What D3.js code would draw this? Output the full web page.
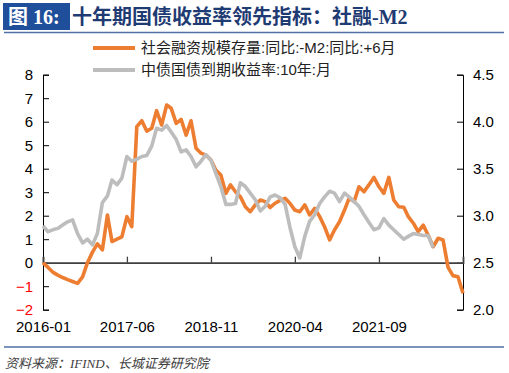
<!DOCTYPE html>
<html><head><meta charset="utf-8">
<script src="https://cdn.jsdelivr.net/npm/d3@7/dist/d3.min.js"></script>
<style>
html,body{margin:0;padding:0;background:#fff;}
svg{display:block;}
</style></head>
<body>
<svg id="c" width="509" height="373"></svg>
<script>
// ---- data ----
const startMonth = "2016-01";
// 社会融资规模存量:同比:-M2:同比:+6月 (left axis, %), monthly from 2016-01
const tsfMinusM2 = [0,-0.2,-0.4,-0.53,-0.63,-0.72,-0.8,-0.88,-0.6,0,
  0.45,0.8,0.55,2.03,0.9,1.0,1.1,1.96,1.53,5.79,
  6.04,5.6,5.72,6.47,5.86,6.71,6.57,5.93,6.1,5.43,
  6.04,4.87,4.66,4.58,4.37,3.94,3.73,2.95,3.31,3.02,
  2.81,2.38,2.17,2.46,2.67,2.6,2.35,2.53,2.65,2.74,
  2.53,2.24,2.17,2.46,2.03,2.31,1.96,1.53,0.97,1.39,
  1.74,2.24,2.74,2.6,3.23,3.02,3.31,3.63,3.23,2.95,
  3.63,2.67,2.38,2.36,1.96,1.68,1.32,1.6,1.18,0.68,
  1.04,0.97,-0.2,-0.55,-0.6,-1.3];
// 中债国债到期收益率:10年:月 (right axis, %), monthly from 2016-01
const cgb10y = [2.89,2.83,2.85,2.865,2.9,2.935,2.955,2.81,2.71,2.75,
  2.69,2.81,3.14,3.21,3.38,3.33,3.4,3.63,3.58,3.6,
  3.63,3.64,3.74,3.93,3.91,3.96,3.89,3.81,3.68,3.7,
  3.63,3.52,3.58,3.65,3.59,3.45,3.31,3.12,3.12,3.13,
  3.35,3.31,3.24,3.17,3.05,3.1,3.2,3.22,3.19,3.12,
  2.88,2.67,2.55,2.78,2.94,3.01,3.13,3.2,3.26,3.24,
  3.15,3.24,3.2,3.15,3.1,3.01,2.93,2.85,2.87,2.97,
  2.9,2.85,2.8,2.75,2.78,2.81,2.8,2.79,2.79,2.66];
const xTickLabels = ["2016-01","2017-06","2018-11","2020-04","2021-09"];
const leftTicks = [-2,-1,0,1,2,3,4,5,6,7,8];
const rightTicks = [2.0,2.5,3.0,3.5,4.0,4.5];
const seriesNames = ["社会融资规模存量:同比:-M2:同比:+6月","中债国债到期收益率:10年:月"];
const titleTag = "图 16:";
const titleText = "十年期国债收益率领先指标：社融-M2";
const sourceText = "资料来源：IFIND、长城证券研究院";

// ---- drawing ----
const svg = d3.select("#c");
const parse = d3.timeParse("%Y-%m");
const t0 = parse(startMonth);
const dateAt = i => d3.timeMonth.offset(t0, i);
const orangeData = tsfMinusM2.map((v,i)=>({d:dateAt(i), v}));
const grayData = cgb10y.map((v,i)=>({d:dateAt(i), v}));

const L = 43, R = 463, T = 74.7, B = 309.7;
const x = d3.scaleTime().domain([t0, dateAt(tsfMinusM2.length-1)]).range([L, R]);
const yL = d3.scaleLinear().domain([-2, 8]).range([B, T]);
const yR = d3.scaleLinear().domain([2.0, 4.5]).range([B, T]);

const latin = "'Liberation Sans', Arial, 'Noto Sans CJK SC', sans-serif";
const serif = "'Liberation Serif', 'Times New Roman', 'Noto Sans CJK SC', serif";

// header
svg.append("rect").attr("x",3).attr("y",3).attr("width",67).attr("height",27).attr("fill","#1F4E9A");
svg.append("text").attr("x",8).attr("y",24).attr("fill","#fff")
  .style("font-family",serif).style("font-size","20px").style("font-weight","bold").text(titleTag);
svg.append("text").attr("x",72).attr("y",24).attr("fill","#1F3B73")
  .style("font-family",serif).style("font-size","20px").style("font-weight","bold").text(titleText);
svg.append("line").attr("x1",4).attr("x2",504).attr("y1",32.5).attr("y2",32.5)
  .attr("stroke","#4F71A8").attr("stroke-width",1.5);
svg.append("line").attr("x1",4).attr("x2",504).attr("y1",347).attr("y2",347)
  .attr("stroke","#4F71A8").attr("stroke-width",1.5);
svg.append("text").attr("x",5).attr("y",368).attr("fill","#404040")
  .style("font-family",serif).style("font-size","13px").style("font-style","italic").text(sourceText);

// legend
const lg = svg.append("g");
[["#ED7D31",48],["#BDBDBD",70]].forEach((s,i)=>{
  lg.append("line").attr("x1",93).attr("x2",135).attr("y1",s[1]).attr("y2",s[1])
    .attr("stroke",s[0]).attr("stroke-width",4);
  lg.append("text").attr("x",141).attr("y",s[1]+5).attr("fill","#222")
    .style("font-family",latin).style("font-size","15px").text(seriesNames[i]);
});

// left axis
const axL = svg.append("g").attr("transform",`translate(${L},0)`)
  .call(d3.axisLeft(yL).tickValues(leftTicks).tickSize(-6).tickPadding(10).tickFormat(d3.format("d")));
axL.select(".domain").attr("stroke","#000");
axL.selectAll(".tick line").attr("stroke","#000");
axL.selectAll(".tick text").style("font-family",latin).style("font-size","15px")
  .attr("fill",d=> d<0 ? "#FF0000" : "#000");

// right axis
const axR = svg.append("g").attr("transform",`translate(${R},0)`)
  .call(d3.axisRight(yR).tickValues(rightTicks).tickSize(-6).tickPadding(10).tickFormat(d3.format(".1f")));
axR.select(".domain").attr("stroke","#000");
axR.selectAll(".tick line").attr("stroke","#000");
axR.selectAll(".tick text").style("font-family",latin).style("font-size","15px").attr("fill","#000");

// zero line with ticks
const xTickDates = xTickLabels.map(parse);
const axZ = svg.append("g").attr("transform",`translate(0,${yL(0)})`)
  .call(d3.axisTop(x).tickValues(xTickDates).tickSize(6).tickFormat(""));
axZ.select(".domain").attr("stroke","#404040").attr("stroke-width",1.8);
axZ.selectAll(".tick line").attr("stroke","#404040").attr("stroke-width",1.3);

// x labels at bottom
const axB = svg.append("g").attr("transform",`translate(0,${B+8})`)
  .call(d3.axisBottom(x).tickValues(xTickDates).tickSize(0).tickPadding(4).tickFormat(d3.timeFormat("%Y-%m")));
axB.select(".domain").remove();
axB.selectAll(".tick text").style("font-family",latin).style("font-size","15px").attr("fill","#000");

// lines
svg.append("path").datum(orangeData)
  .attr("d", d3.line().x(d=>x(d.d)).y(d=>yL(d.v)))
  .attr("fill","none").attr("stroke","#ED7D31").attr("stroke-width",3.6).attr("stroke-linejoin","round");
svg.append("path").datum(grayData)
  .attr("d", d3.line().x(d=>x(d.d)).y(d=>yR(d.v)))
  .attr("fill","none").attr("stroke","#BDBDBD").attr("stroke-width",3.6).attr("stroke-linejoin","round");
</script>
</body></html>
